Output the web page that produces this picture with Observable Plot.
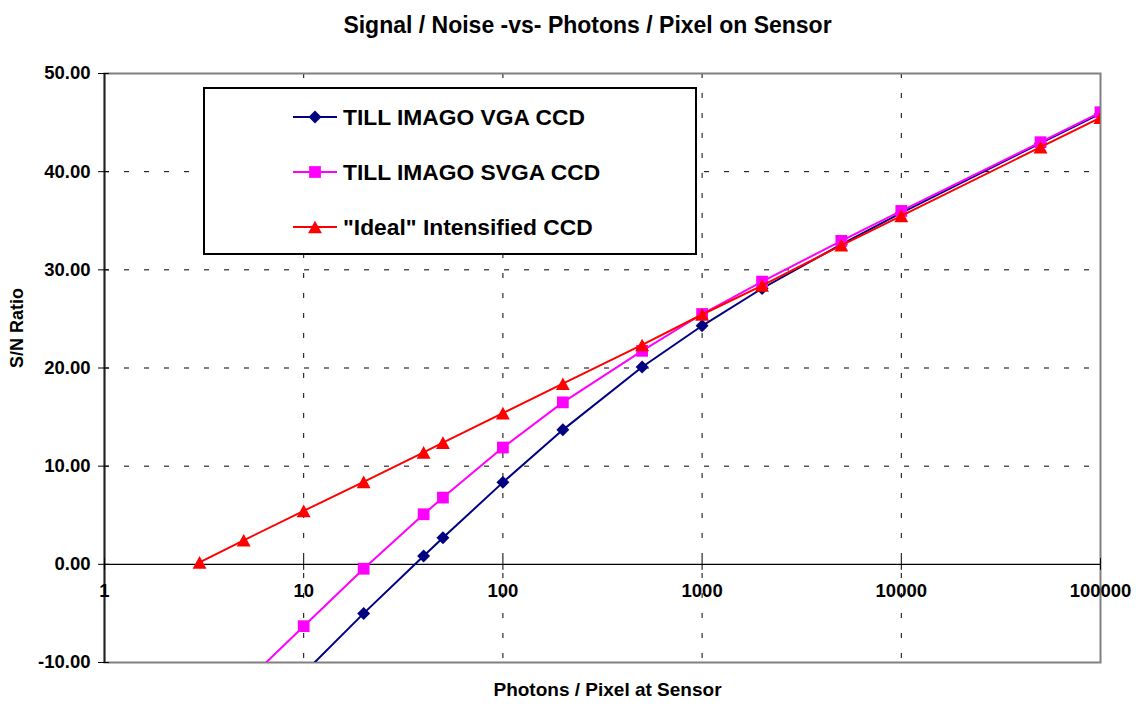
<!DOCTYPE html>
<html><head><meta charset="utf-8">
<script src="https://cdn.jsdelivr.net/npm/d3@7"></script>
<script src="https://cdn.jsdelivr.net/npm/@observablehq/plot@0.6"></script>
<style>
html,body{margin:0;padding:0;background:#fff;}
#wrap{position:relative;width:1136px;height:706px;font-family:"Liberation Sans",Arial,Helvetica,sans-serif;}
#legend{position:absolute;left:203px;top:87px;width:494px;height:168px;box-sizing:border-box;border:2px solid #000;background:#fff;}
#legend svg{display:block;}
</style></head><body><div id="wrap"><div id="legend"></div></div>
<script>
// ---- data ----
const photons = [3, 5, 10, 20, 40, 50, 100, 200, 500, 1000, 2000, 5000, 10000, 50000, 100000];
const vga   = [null, null, -11.1, -5.0, 0.85, 2.7, 8.35, 13.7, 20.1, 24.3, 28.1, 32.6, 35.8, 42.9, 45.9];
const svga  = [null, -12.2, -6.3, -0.45, 5.1, 6.8, 11.9, 16.5, 21.75, 25.5, 28.8, 32.95, 36.0, 43.0, 46.05];
const ideal = [0.2, 2.45, 5.45, 8.4, 11.4, 12.4, 15.4, 18.4, 22.35, 25.45, 28.4, 32.5, 35.5, 42.5, 45.5];
const seriesNames = ["TILL IMAGO VGA CCD", "TILL IMAGO SVGA CCD", "\"Ideal\" Intensified CCD"];
const seriesColors = ["#000080", "#FF00FF", "#FF0000"];
const xTicks = [1, 10, 100, 1000, 10000, 100000];
const yTicks = [-10, 0, 10, 20, 30, 40, 50];
const xGrid = [10, 100, 1000, 10000];
const yGrid = [10, 20, 30, 40];
const xDomain = [1, 100000];
const yDomain = [-10, 50];
const xAxisAt = 0;
const titleText = "Signal / Noise -vs- Photons / Pixel on Sensor";
const xLabel = "Photons / Pixel at Sensor";
const yLabel = "S/N Ratio";

// ---- marker shapes (Excel-like) ----
const diamond = {draw(c, size) { const r = Math.sqrt(size / Math.PI) * 1.08; c.moveTo(0, -r); c.lineTo(r, 0); c.lineTo(0, r); c.lineTo(-r, 0); c.closePath(); }};
const square = {draw(c, size) { const r = Math.sqrt(size / Math.PI) * 0.98; c.moveTo(-r, -r); c.lineTo(r, -r); c.lineTo(r, r); c.lineTo(-r, r); c.closePath(); }};
const triangle = {draw(c, size) { const r = Math.sqrt(size / Math.PI) * 1.05; const w = r * 1.1; c.moveTo(0, -r); c.lineTo(w, r); c.lineTo(-w, r); c.closePath(); }};
const symbols = [diamond, square, triangle];

const seriesValues = [vga, svga, ideal];
const rows = [];
seriesValues.forEach((vals, s) => photons.forEach((p, i) => rows.push({s, x: p, y: vals[i]})));

const font = '"Liberation Sans", Arial, Helvetica, sans-serif';

const seriesMarks = [];
seriesValues.forEach((vals, s) => {
  const data = rows.filter(d => d.s === s);
  seriesMarks.push(Plot.line(data.filter(d => d.y != null), {x: "x", y: "y", stroke: seriesColors[s], strokeWidth: 2, clip: true}));
  seriesMarks.push(Plot.dot(data.filter(d => d.y != null), {x: "x", y: "y", r: 6, symbol: symbols[s], fill: seriesColors[s], stroke: "none", clip: true}));
});

const chart = Plot.plot({
  width: 1136,
  height: 706,
  marginTop: 73,
  marginBottom: 44,
  marginLeft: 104,
  marginRight: 36,
  style: {fontFamily: font, fontWeight: "bold", color: "black", background: "white", overflow: "visible"},
  x: {type: "log", domain: xDomain, axis: null},
  y: {domain: yDomain, axis: null},
  marks: [
    Plot.ruleX(xGrid, {x: d => d, stroke: "black", strokeWidth: 1, strokeDasharray: "5,15"}),
    Plot.ruleY(yGrid, {y: d => d, stroke: "black", strokeWidth: 1, strokeDasharray: "5,15"}),
    Plot.frame({stroke: "#808080", strokeWidth: 2}),
    Plot.ruleY([xAxisAt], {y: d => d, stroke: "black", strokeWidth: 1.2}),
    Plot.ruleX([xDomain[0]], {x: d => d, stroke: "#202020", strokeWidth: 1.8}),
    Plot.ruleY(yTicks, {y: d => d, x1: () => xDomain[0], x2: () => xDomain[0], insetLeft: -6, insetRight: -5, stroke: "black", strokeWidth: 1}),
    Plot.ruleX(xTicks, {x: d => d, y1: () => xAxisAt, y2: () => xAxisAt, insetTop: -6, insetBottom: -6, stroke: "black", strokeWidth: 1}),
    ...seriesMarks,
    Plot.axisY(yTicks, {tickFormat: d => d.toFixed(2), tickSize: 0, tickPadding: 14, fontSize: 18.5, fontWeight: "bold", label: null}),
    Plot.text(xTicks, {x: d => d, y: () => xAxisAt, text: d => String(d), dy: 27, fontSize: 18.5, fontWeight: "bold", fill: "black"}),
    Plot.text([titleText], {frameAnchor: "top", dx: -15, dy: -57, fontSize: 23, fontWeight: "bold", fill: "black"}),
    Plot.text([xLabel], {frameAnchor: "bottom", dx: 5, dy: 33.5, fontSize: 19, fontWeight: "bold", fill: "black"}),
    Plot.text([yLabel], {frameAnchor: "left", dx: -87.3, rotate: -90, fontSize: 18, fontWeight: "bold", fill: "black"})
  ]
});
const wrap = document.getElementById("wrap");
wrap.insertBefore(chart, wrap.firstChild);

// ---- legend ----
const lg = d3.select("#legend").append("svg").attr("width", 490).attr("height", 164);
const rowY = [28, 83, 138];
seriesNames.forEach((name, s) => {
  const g = lg.append("g").attr("transform", `translate(0,${rowY[s]})`);
  g.append("line").attr("x1", 88).attr("x2", 132).attr("y1", 0).attr("y2", 0).attr("stroke", seriesColors[s]).attr("stroke-width", 2);
  const p = d3.path(); symbols[s].draw(p, Math.PI * 36);
  g.append("path").attr("d", p.toString()).attr("transform", "translate(110,0)").attr("fill", seriesColors[s]);
  g.append("text").attr("x", 138).attr("y", 8.2).attr("font-family", font).attr("font-weight", "bold").attr("font-size", 22.8).attr("fill", "black").text(name);
});
</script></body></html>
